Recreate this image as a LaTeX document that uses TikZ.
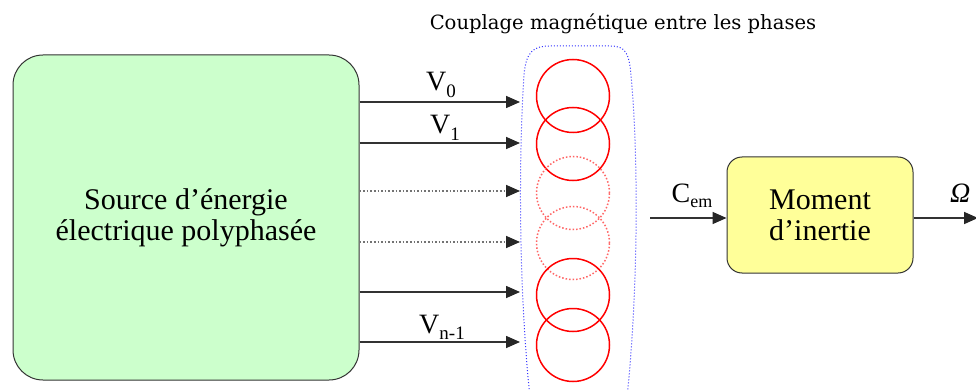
\documentclass[tikz,border=0pt]{standalone}
\usepackage{fontspec}
\setmainfont{LiberationSerif}[Extension=.ttf, UprightFont=*-Regular, ItalicFont=*-Italic, BoldFont=*-Bold]
\newfontfamily\titlefont{DejaVu Serif}
\usetikzlibrary{arrows.meta}
\definecolor{srcgreen}{HTML}{CCFFCC}
\definecolor{momyellow}{HTML}{FFFF99}
\begin{document}
\begin{tikzpicture}[x=1pt,y=-1pt,
  arr/.style={draw=black!80, line width=1.6pt, -{Triangle[length=14pt,width=12pt,color=black!85]}},
  darr/.style={arr, draw=black!55, dotted},
  coil/.style={circle, draw=red, line width=1.5pt, minimum size=73pt, inner sep=0pt},
  dcoil/.style={coil, draw=red!60, dotted},
  blockbox/.style={draw=black!80, line width=1pt, align=center,
     font=\fontsize{30}{31}\selectfont},
  lab/.style={font=\fontsize{28}{30}\selectfont, inner sep=0pt}
]
\clip (0,0) rectangle (976,390);
\fill[white] (0,0) rectangle (976,390);

% title
\node[font=\titlefont\fontsize{19.6}{21}\selectfont, inner sep=0pt] (title) at (623,24) {Couplage magnétique entre les phases};

% source
\node[blockbox, fill=srcgreen, rounded corners=30pt, minimum width=346pt, minimum height=325pt] (src) at (186,217.5) {Source d’énergie\\électrique polyphasée};

% coils
\node[coil]  (c0) at (573,96) {};
\node[coil]  (c1) at (573,144) {};
\node[dcoil] (c2) at (573,193) {};
\node[dcoil] (c3) at (573,243) {};
\node[coil]  (c4) at (573,295) {};
\node[coil]  (c5) at (573,345) {};

% coupling envelope
\draw[blue!80, dotted, line width=1pt] (530,398) .. controls (518,280) and (519,150) .. (524,75)
  .. controls (526,52) and (533,46) .. (550,46) -- (610,46)
  .. controls (625,46) and (629,52) .. (631,75)
  .. controls (638,150) and (639,280) .. (627,398);

% arrow ends
\coordinate (e0) at (520,102);
\coordinate (e1) at (520,143);
\coordinate (e2) at (520,191);
\coordinate (e3) at (520,242);
\coordinate (e4) at (520,292);
\coordinate (e5) at (520,342);

\draw[arr]  (src.east |- e0) -- (e0);
\draw[arr]  (src.east |- e1) -- (e1);
\draw[darr] (src.east |- e2) -- (e2);
\draw[darr] (src.east |- e3) -- (e3);
\draw[arr]  (src.east |- e4) -- (e4);
\draw[arr]  (src.east |- e5) -- (e5);

\node[lab, anchor=base] (v0) at (441,91) {V\raisebox{-0.22em}{\fontsize{19}{19}\selectfont 0}};
\node[lab, anchor=base] (v1) at (445,134) {V\raisebox{-0.22em}{\fontsize{19}{19}\selectfont 1}};
\node[lab, anchor=base] (vn) at (442,333) {V\raisebox{-0.22em}{\fontsize{19}{19}\selectfont n-1}};

% moment
\node[blockbox, fill=momyellow, rounded corners=15pt, minimum width=186pt, minimum height=116pt] (mom) at (820,215) {Moment\\d’inertie};

\coordinate (cs) at (650,218);
\coordinate (oe) at (978,218);
\draw[arr] (cs) -- (mom.west |- cs);
\draw[arr] (mom.east |- oe) -- (oe);

\node[lab, anchor=base] (cem) at (692,202) {C\raisebox{-0.2em}{\fontsize{18}{18}\selectfont em}};
\node[lab, anchor=base west] (om) at (950,202) {\textit{Ω}};
\end{tikzpicture}
\end{document}
